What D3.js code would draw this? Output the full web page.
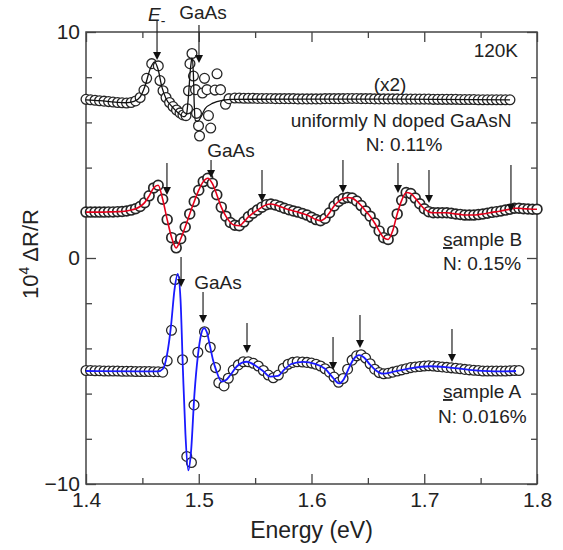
<!DOCTYPE html>
<html lang="en">
<head>
<meta charset="UTF-8">
<title>Electroreflectance spectra</title>
<script src="https://d3js.org/d3.v7.min.js"></script>
<style>
  body { margin: 0; background: #fff; font-family: "Liberation Sans", Arial, sans-serif; }
  svg { display: block; }
  text { fill: #222; }
</style>
</head>
<body>
<svg width="563" height="550"></svg>
<script>
  // axis ticks
  const energyTicks = [1.4, 1.5, 1.6, 1.7, 1.8];
  const energyMinor = [1.45, 1.55, 1.65, 1.75];
  const signalTicks = [-10, 0, 10];
  const signalMinor = [-8, -6, -4, -2, 2, 4, 6, 8];

  // uniformly N doped GaAsN (x2), measured points [energy, 10^4 dR/R]
  const uniformPoints = [
    [1.400,7.02],[1.404,7.0],[1.408,6.98],[1.412,6.96],[1.416,6.94],[1.420,6.92],[1.424,6.9],
    [1.428,6.88],[1.432,6.87],[1.436,6.86],[1.440,6.88],[1.444,6.95],[1.448,7.1],
    [1.4514,7.43],[1.4538,7.95],[1.4583,8.6],[1.4641,8.5],[1.4656,7.85],[1.4683,7.4],
    [1.4710,7.1],[1.4741,6.88],[1.4772,6.7],[1.4803,6.55],[1.4834,6.42],[1.4860,6.33],
    [1.4887,6.3],[1.4900,6.6],[1.4909,7.4],[1.4922,8.6],[1.4940,9.05],
    [1.4953,8.05],[1.4971,7.45],[1.4980,6.4],[1.4998,5.85],[1.5007,5.4],[1.5033,7.3],
    [1.5051,7.95],[1.5073,7.45],[1.5086,6.3],[1.5106,5.75],[1.5144,7.43],[1.5162,8.15],
    [1.5193,7.45],[1.5237,6.8],[1.5268,7.05],
    [1.532,7.08],[1.536,7.08],[1.540,7.07],[1.544,7.07],[1.548,7.07],[1.552,7.06],[1.556,7.06],
    [1.560,7.06],[1.564,7.06],[1.568,7.05],[1.572,7.05],[1.576,7.05],[1.580,7.05],[1.584,7.05],
    [1.588,7.04],[1.592,7.04],[1.596,7.04],[1.600,7.04],[1.604,7.04],[1.608,7.04],[1.612,7.05],
    [1.616,7.05],[1.620,7.05],[1.624,7.05],[1.628,7.05],[1.632,7.06],[1.636,7.06],[1.640,7.06],
    [1.644,7.05],[1.648,7.05],[1.652,7.05],[1.656,7.04],[1.660,7.04],[1.664,7.04],[1.668,7.04],
    [1.672,7.04],[1.676,7.04],[1.680,7.03],[1.684,7.03],[1.688,7.03],[1.692,7.03],[1.696,7.03],
    [1.700,7.03],[1.704,7.03],[1.708,7.02],[1.712,7.02],[1.716,7.02],[1.720,7.02],[1.724,7.02],
    [1.728,7.02],[1.732,7.01],[1.736,7.01],[1.740,7.01],[1.744,7.01],[1.748,7.0],[1.752,7.0],
    [1.756,7.0],[1.760,7.0],[1.764,7.0],[1.768,7.0],[1.772,7.0],[1.776,7.0]
  ];
  const uniformFit = [
    [1.400,7.0],[1.4124,6.96],[1.4257,6.9],[1.4355,6.87],[1.4426,6.93],[1.4479,7.12],
    [1.4523,7.6],[1.4568,8.35],[1.4608,8.68],[1.4639,8.35],[1.4674,7.55],[1.4710,7.05],
    [1.4763,6.7],[1.4816,6.43],[1.4869,6.25],[1.4891,6.35],[1.4909,7.2],[1.4927,8.4],
    [1.4940,8.85],[1.4952,8.2],[1.4960,6.8],[1.4969,6.1],[1.4993,6.05],[1.5020,6.25],
    [1.5055,6.6],[1.5126,6.85],[1.5215,6.98],[1.5295,7.02],[1.5898,7.03],[1.6785,7.03],[1.7761,7.0]
  ];

  // sample B, N: 0.15%
  const sampleB = [
    [1.400,2.03],[1.404,2.03],[1.408,2.03],[1.412,2.03],[1.416,2.03],[1.420,2.04],[1.424,2.04],
    [1.428,2.05],[1.432,2.06],[1.436,2.08],[1.440,2.12],[1.444,2.18],[1.448,2.28],[1.452,2.45],
    [1.456,2.75],[1.460,3.1],[1.464,3.22],[1.468,2.6],[1.472,1.7],[1.476,0.9],[1.480,0.45],
    [1.484,0.85],[1.488,1.37],[1.492,1.95],[1.496,2.5],[1.500,3.0],[1.504,3.38],[1.508,3.53],
    [1.512,3.3],[1.516,2.8],[1.520,2.25],[1.524,1.85],[1.528,1.57],[1.532,1.45],[1.536,1.43],
    [1.540,1.6],[1.544,1.82],[1.548,1.98],[1.552,2.12],[1.556,2.25],[1.560,2.36],[1.564,2.39],
    [1.568,2.35],[1.572,2.28],[1.576,2.2],[1.580,2.14],[1.584,2.08],[1.588,2.03],[1.592,1.97],
    [1.596,1.9],[1.600,1.8],[1.604,1.7],[1.608,1.65],[1.612,1.75],[1.616,2.0],[1.620,2.3],
    [1.624,2.5],[1.628,2.63],[1.632,2.68],[1.636,2.65],[1.640,2.52],[1.644,2.32],[1.648,2.08],
    [1.652,1.85],[1.656,1.55],[1.660,1.2],[1.664,0.9],[1.668,0.82],[1.672,1.2],[1.676,1.95],
    [1.680,2.55],[1.684,2.9],[1.688,2.85],[1.692,2.65],[1.696,2.4],[1.700,2.18],[1.704,2.05],
    [1.708,2.0],[1.712,2.0],[1.716,2.0],[1.720,2.0],[1.724,1.98],[1.728,1.95],[1.732,1.93],
    [1.736,1.9],[1.740,1.9],[1.744,1.9],[1.748,1.92],[1.752,1.95],[1.756,1.98],[1.760,2.02],
    [1.764,2.05],[1.768,2.08],[1.772,2.12],[1.776,2.16],[1.780,2.2],[1.784,2.2],[1.788,2.18],
    [1.792,2.17],[1.796,2.16],[1.800,2.16]
  ];

  // sample A, N: 0.016%
  const sampleA = [
    [1.400,-4.98],[1.404,-4.98],[1.408,-4.99],[1.412,-4.99],[1.416,-5.0],[1.420,-5.0],[1.424,-5.0],
    [1.428,-5.0],[1.432,-5.01],[1.436,-5.01],[1.440,-5.01],[1.444,-5.02],[1.448,-5.02],[1.452,-5.02],
    [1.456,-5.02],[1.460,-5.03],[1.464,-5.03],
    [1.468,-5.05],[1.472,-4.55],[1.4758,-3.2],[1.4789,-0.95],[1.4856,-4.5],[1.4894,-8.78],
    [1.4935,-9.05],[1.4958,-6.5],[1.4992,-4.17],[1.5051,-3.26],[1.5102,-3.95],[1.5149,-4.85],
    [1.5178,-5.52],[1.5224,-5.66],[1.5262,-5.32],[1.5306,-4.96],[1.5351,-4.73],[1.5395,-4.59],
    [1.5439,-4.59],[1.5484,-4.66],[1.5528,-4.78],[1.5573,-4.98],[1.5617,-5.18],[1.5661,-5.3],
    [1.5706,-5.18],[1.5750,-4.88],[1.5792,-4.7],[1.5833,-4.62],[1.5873,-4.59],
    [1.592,-4.6],[1.596,-4.62],[1.600,-4.65],[1.604,-4.7],[1.608,-4.78],[1.612,-4.9],[1.616,-5.05],
    [1.620,-5.27],[1.624,-5.5],[1.628,-5.33],[1.632,-4.92],[1.636,-4.52],[1.640,-4.33],[1.644,-4.28],
    [1.648,-4.43],[1.652,-4.68],[1.656,-4.92],[1.660,-5.07],[1.664,-5.12],[1.668,-5.1],[1.672,-5.05],
    [1.676,-5.0],[1.680,-4.95],[1.684,-4.9],[1.688,-4.85],[1.692,-4.82],[1.696,-4.8],[1.700,-4.78],
    [1.704,-4.77],[1.708,-4.78],[1.712,-4.8],[1.716,-4.82],[1.720,-4.84],[1.724,-4.86],[1.728,-4.88],
    [1.732,-4.9],[1.736,-4.93],[1.740,-4.95],[1.744,-4.97],[1.748,-4.98],[1.752,-5.0],[1.756,-5.0],
    [1.760,-5.0],[1.764,-5.0],[1.768,-5.0],[1.772,-5.0],[1.776,-4.99],[1.780,-4.98],[1.784,-4.98]
  ];
  const sampleAFit = [
    [1.400,-5.0],[1.4479,-5.02],[1.4639,-5.02],[1.4683,-4.9],[1.4718,-4.3],[1.4754,-3.0],
    [1.4785,-1.4],[1.4814,-0.7],[1.4838,-1.8],[1.4860,-5.0],[1.4882,-7.8],[1.4907,-9.4],
    [1.4931,-8.6],[1.4962,-6.0],[1.4993,-4.3],[1.5020,-3.4],[1.5047,-3.1],[1.5073,-3.3],
    [1.5100,-3.9],[1.5126,-4.5],[1.5153,-4.95],[1.5204,-5.47],[1.5242,-5.4],[1.5277,-5.2],
    [1.5337,-4.8],[1.5425,-4.59],[1.5514,-4.8],[1.5570,-5.0],[1.5632,-5.25],[1.5703,-5.22],
    [1.5756,-4.95],[1.5827,-4.68],[1.5925,-4.6],[1.6031,-4.68],[1.6120,-4.9],[1.6191,-5.3],
    [1.6244,-5.55],[1.6288,-5.35],[1.6333,-4.85],[1.6377,-4.45],[1.6421,-4.3],[1.6466,-4.4],
    [1.6519,-4.72],[1.6572,-4.98],[1.6634,-5.12],[1.6741,-5.02],[1.6874,-4.88],[1.7051,-4.79],
    [1.7228,-4.85],[1.7450,-4.97],[1.7672,-5.02],[1.7814,-5.0]
  ];

  // transition arrows: [energy, tail value, tip value]
  const uniformArrows = [[1.4630,10.53,8.76],[1.5002,10.31,8.63]];
  const sampleBArrows = [
    [1.4718,4.20,2.79],[1.5109,4.34,3.54],[1.5561,3.89,2.48],[1.6279,4.34,2.88],
    [1.6767,4.20,2.88],[1.7042,3.89,2.43],[1.7769,4.12,2.04]
  ];
  const sampleAArrows = [
    [1.4843,0.04,-1.28],[1.5038,-1.50,-2.88],[1.5428,-2.88,-4.20],
    [1.6191,-3.50,-4.96],[1.6430,-2.52,-3.98],[1.7246,-3.14,-4.60]
  ];

  const svg = d3.select("svg");
  const margin = { top: 32, right: 26, bottom: 66, left: 86 };
  const width = +svg.attr("width");
  const height = +svg.attr("height");

  const x = d3.scaleLinear().domain([1.4, 1.8]).range([margin.left, width - margin.right]);
  const y = d3.scaleLinear().domain([-10, 10]).range([height - margin.bottom, margin.top]);

  const plotW = width - margin.right - margin.left;
  const plotH = height - margin.bottom - margin.top;

  // axes, ticks pointing inward
  function styleAxis(g) {
    g.select(".domain").remove();
    g.selectAll("line").attr("stroke", "#444").attr("stroke-width", 1.3);
    g.selectAll("text").attr("font-size", 21).attr("fill", "#222")
      .attr("font-family", "'Liberation Sans', Arial, sans-serif");
  }

  svg.append("g").attr("transform", `translate(0,${y(-10)})`)
    .call(d3.axisBottom(x).tickValues(energyTicks).tickSize(-10).tickPadding(8).tickFormat(d3.format(".1f")))
    .call(styleAxis);
  svg.append("g").attr("transform", `translate(0,${y(-10)})`)
    .call(d3.axisBottom(x).tickValues(energyMinor).tickSize(-6).tickFormat(""))
    .call(styleAxis);
  svg.append("g").attr("transform", `translate(0,${y(10)})`)
    .call(d3.axisTop(x).tickValues(energyTicks).tickSize(-10).tickFormat(""))
    .call(styleAxis);
  svg.append("g").attr("transform", `translate(0,${y(10)})`)
    .call(d3.axisTop(x).tickValues(energyMinor).tickSize(-6).tickFormat(""))
    .call(styleAxis);

  svg.append("g").attr("transform", `translate(${x(1.4)},0)`)
    .call(d3.axisLeft(y).tickValues(signalTicks).tickSize(-10).tickPadding(6))
    .call(styleAxis);
  svg.append("g").attr("transform", `translate(${x(1.4)},0)`)
    .call(d3.axisLeft(y).tickValues(signalMinor).tickSize(-6).tickFormat(""))
    .call(styleAxis);
  svg.append("g").attr("transform", `translate(${x(1.8)},0)`)
    .call(d3.axisRight(y).tickValues(signalTicks).tickSize(-10).tickFormat(""))
    .call(styleAxis);
  svg.append("g").attr("transform", `translate(${x(1.8)},0)`)
    .call(d3.axisRight(y).tickValues(signalMinor).tickSize(-6).tickFormat(""))
    .call(styleAxis);

  svg.append("rect")
    .attr("x", margin.left).attr("y", margin.top)
    .attr("width", plotW).attr("height", plotH)
    .attr("fill", "none").attr("stroke", "#444").attr("stroke-width", 1.5);

  // measured points
  function drawPoints(data, sw) {
    svg.append("g").selectAll("circle")
      .data(data)
      .join("circle")
      .attr("cx", d => x(d[0]))
      .attr("cy", d => y(d[1]))
      .attr("r", 4.9)
      .attr("fill", "#fff")
      .attr("stroke", "#262626")
      .attr("stroke-width", sw);
  }

  const line = d3.line()
    .x(d => x(d[0]))
    .y(d => y(d[1]))
    .curve(d3.curveMonotoneX);

  function drawFit(data, color, w) {
    svg.append("path")
      .datum(data)
      .attr("d", line)
      .attr("fill", "none")
      .attr("stroke", color)
      .attr("stroke-width", w);
  }

  drawPoints(uniformPoints, 1.3);
  drawFit(uniformFit, "#111", 1.3);
  drawPoints(sampleB, 1.7);
  drawFit(sampleB, "#e4001b", 1.6);
  drawPoints(sampleA, 1.3);
  drawFit(sampleAFit, "#1a1aff", 1.8);

  // arrows
  function drawArrows(data) {
    const g = svg.append("g");
    data.forEach(d => {
      const ax = x(d[0]);
      const tail = y(d[1]);
      const tip = y(d[2]);
      g.append("line")
        .attr("x1", ax).attr("x2", ax)
        .attr("y1", tail).attr("y2", tip - 6)
        .attr("stroke", "#222").attr("stroke-width", 1.2);
      g.append("path")
        .attr("d", `M${ax - 4},${tip - 8} L${ax + 4},${tip - 8} L${ax},${tip} Z`)
        .attr("fill", "#111");
    });
  }
  drawArrows(uniformArrows);
  drawArrows(sampleBArrows);
  drawArrows(sampleAArrows);

  // annotations
  function label(tx, ty, str, anchor) {
    return svg.append("text")
      .attr("x", tx).attr("y", ty)
      .attr("font-size", 19)
      .attr("text-anchor", anchor || "start")
      .text(str);
  }

  const eLabel = svg.append("text").attr("x", 148).attr("y", 21).attr("font-size", 19);
  eLabel.append("tspan").attr("font-style", "italic").text("E");
  eLabel.append("tspan").attr("font-size", 14).attr("dy", 5).text("-");

  label(203, 19, "GaAs", "middle");
  label(518, 57, "120K", "end");
  label(390, 91, "(x2)", "middle");
  label(401, 127, "uniformly N doped GaAsN", "middle");
  label(404, 151, "N: 0.11%", "middle");
  label(231, 157, "GaAs", "middle");
  label(218, 289, "GaAs", "middle");

  const sB = label(443, 246, "");
  sB.append("tspan").attr("text-decoration", "underline").text("s");
  sB.append("tspan").text("ample B");
  label(443, 270, "N: 0.15%");

  const sA = label(443, 398, "");
  sA.append("tspan").attr("text-decoration", "underline").text("s");
  sA.append("tspan").text("ample A");
  label(438, 423, "N: 0.016%");

  // axis titles
  svg.append("text")
    .attr("x", (x(1.4) + x(1.8)) / 2)
    .attr("y", 538)
    .attr("text-anchor", "middle")
    .attr("font-size", 23)
    .text("Energy (eV)");

  const yTitle = svg.append("text")
    .attr("transform", `translate(38,${y(0) - 4}) rotate(-90)`)
    .attr("text-anchor", "middle")
    .attr("font-size", 22);
  yTitle.append("tspan").text("10");
  yTitle.append("tspan").attr("font-size", 14).attr("dy", -9).text("4");
  yTitle.append("tspan").attr("dy", 9).text(" \u0394R/R");
</script>
</body>
</html>
